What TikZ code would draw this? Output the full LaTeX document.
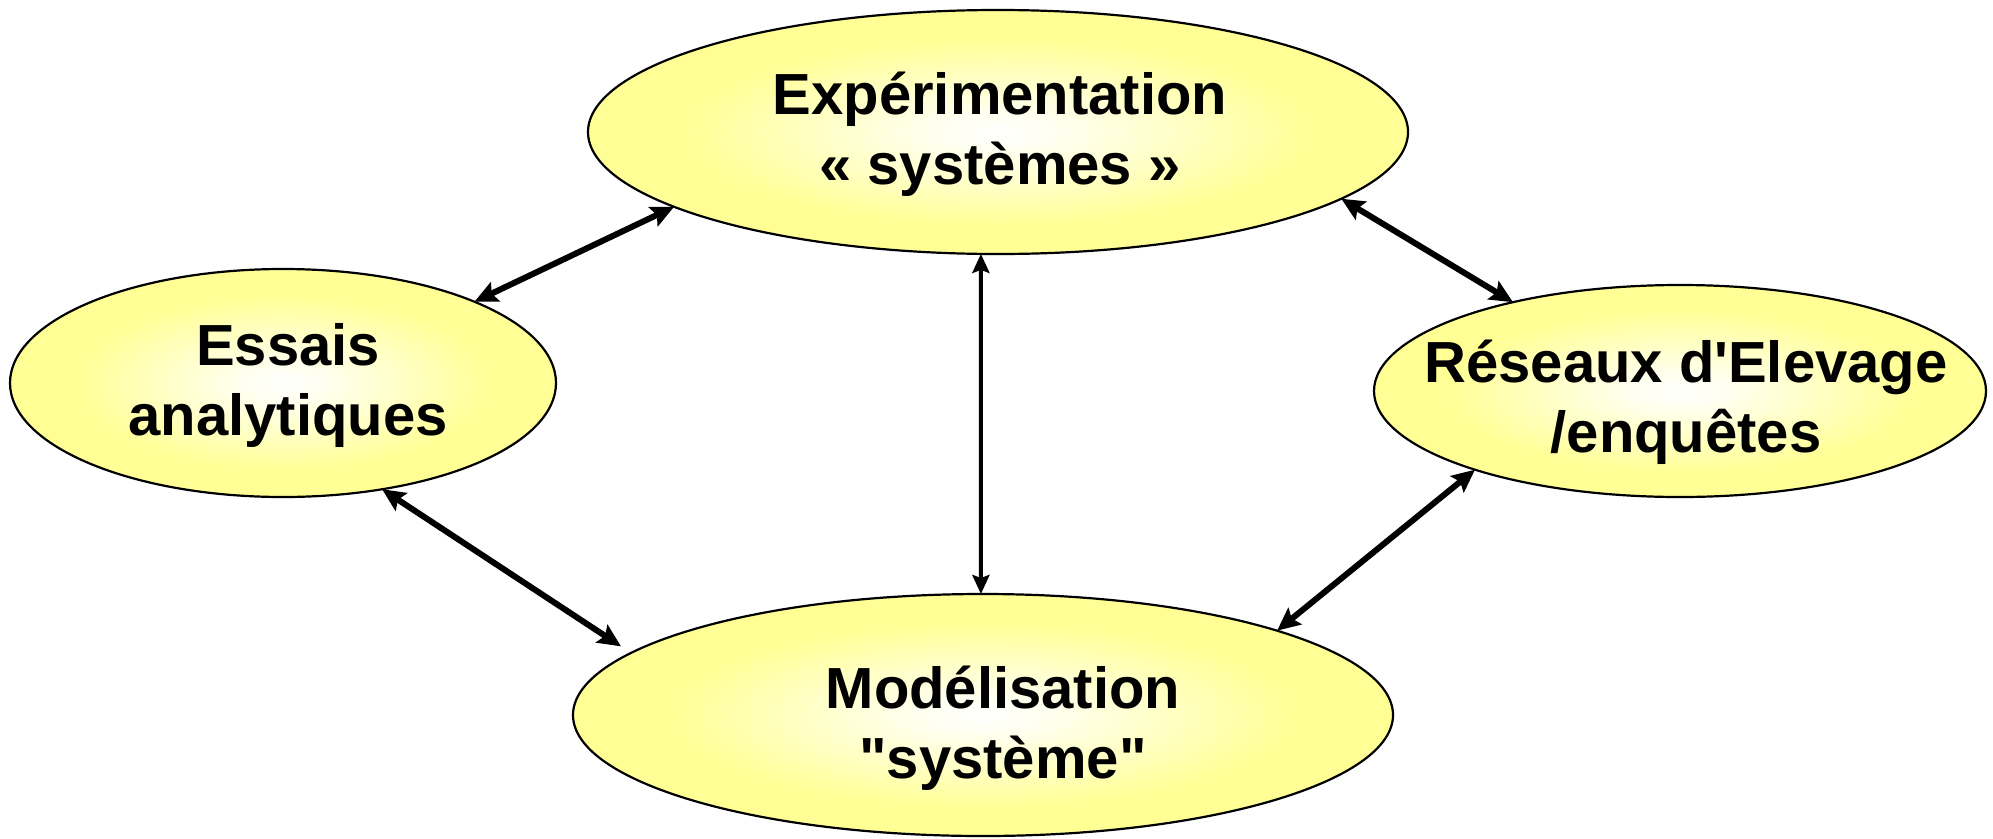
\documentclass[tikz,border=0pt]{standalone}
\usepackage{fontspec}
\setmainfont{Liberation Sans}[Ligatures=TeXOff]
\usetikzlibrary{shapes.geometric,arrows.meta}
\definecolor{yel}{RGB}{255,255,150}
\pgfdeclareradialshading{glow}{\pgfpoint{0bp}{0bp}}{color(0bp)=(white); color(4bp)=(white!85!yel); color(19bp)=(yel); color(50bp)=(yel)}
\begin{document}
\begin{tikzpicture}[x=1pt,y=-1pt,
  blob/.style={ellipse, draw=black, line width=2.2pt, shading=glow, inner sep=0pt, outer sep=0pt},
  lbl/.style={align=center, font=\fontsize{58}{70}\selectfont\bfseries, inner sep=0pt},
  thick arr/.style={line width=6pt, {Stealth[length=23pt,width=21pt,inset=4pt]}-{Stealth[length=23pt,width=21pt,inset=4pt]}},
  thin arr/.style={line width=4pt, {Stealth[length=19pt,width=17pt,inset=3pt]}-{Stealth[length=19pt,width=17pt,inset=3pt]}}]
\useasboundingbox (0,0) rectangle (1993,838);
\node[blob, minimum width=820pt, minimum height=244pt] (top) at (998,132) {};
\node[blob, minimum width=546pt, minimum height=228pt] (left) at (283,383) {};
\node[blob, minimum width=612pt, minimum height=212pt] (right) at (1680,391) {};
\node[blob, minimum width=820pt, minimum height=242pt] (bot) at (983,715) {};
\node[lbl] (ttop) at (1000,134) {Expérimentation\\« systèmes »};
\node[lbl] (tleft) at (288,385) {Essais\\analytiques};
\node[lbl] (tright) at (1686,402) {Réseaux d'Elevage\\/enquêtes};
\node[lbl] (tbot) at (1003,728) {Modélisation\\"système"};
\draw[thick arr] (left.23.2) -- (top.-167);
\draw[thick arr] (top.-11.5) -- (right.152.5);
\draw[thin arr] (top.-98.4) -- (bot.91.4);
\draw[thick arr, shorten >=12pt] (left.-47.6) -- (bot.170.8);
\draw[thick arr] (right.-159.7) -- (bot.16.9);
\end{tikzpicture}
\end{document}
